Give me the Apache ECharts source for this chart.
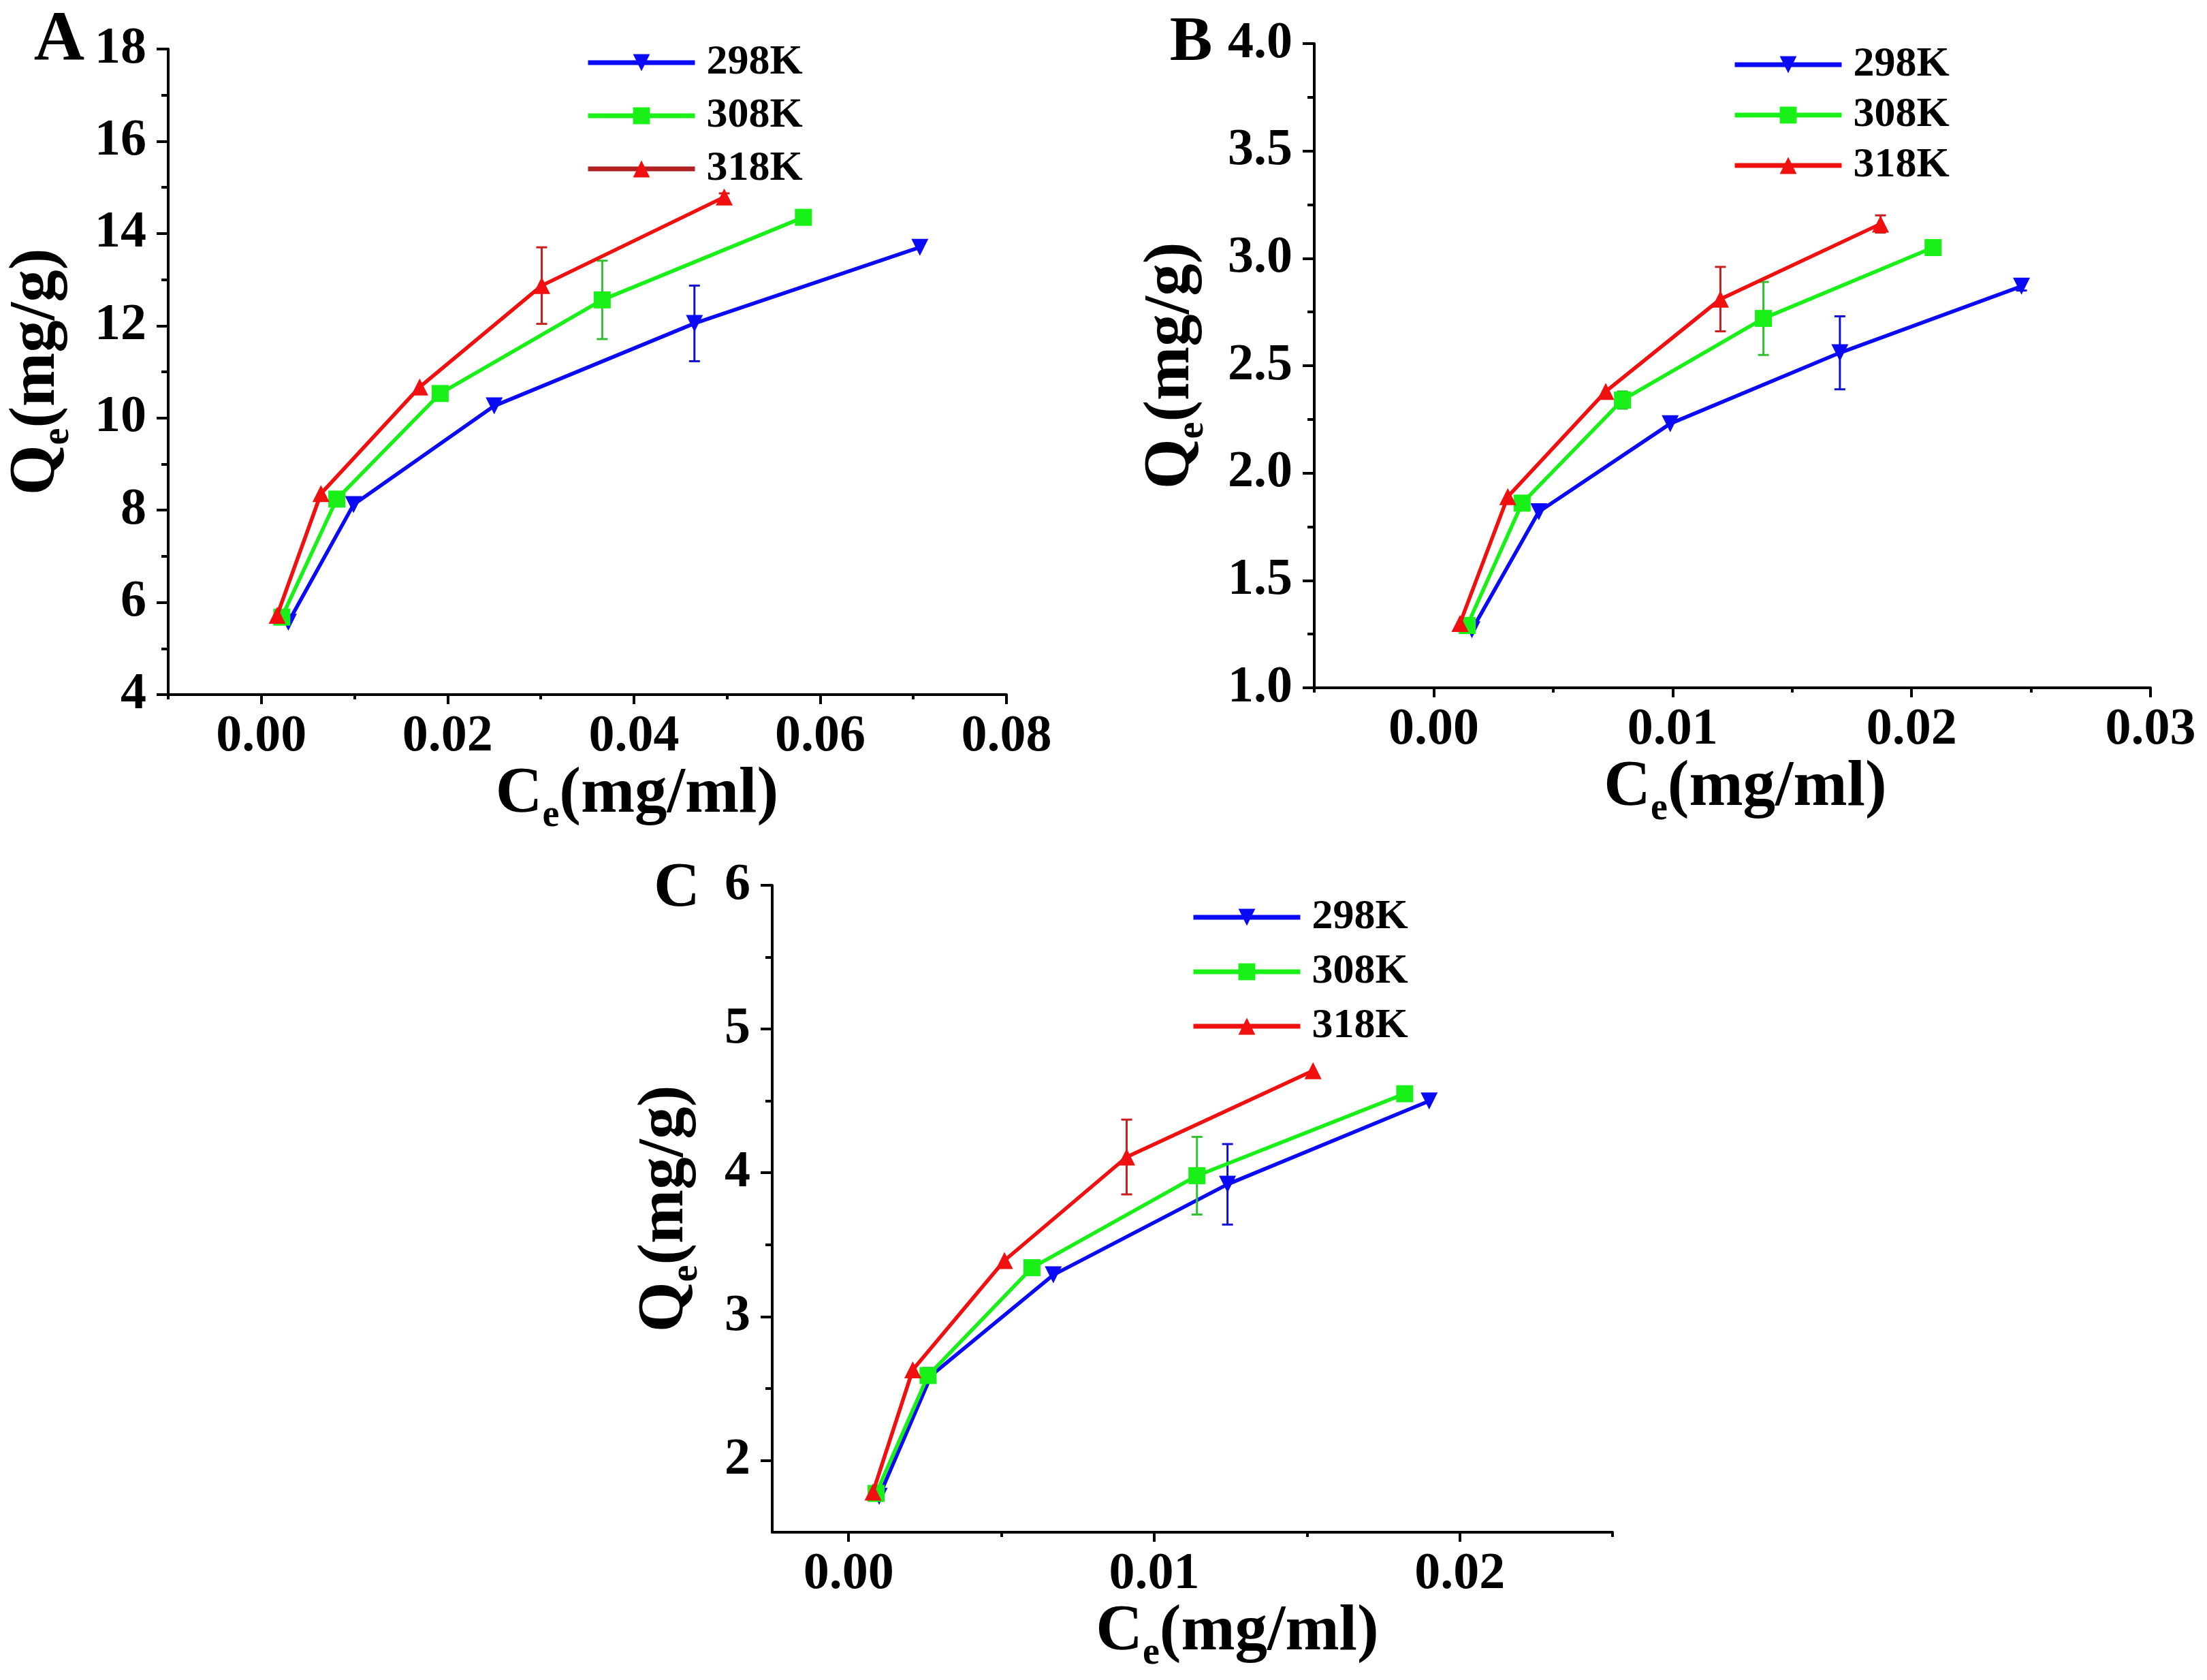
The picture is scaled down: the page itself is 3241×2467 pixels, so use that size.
<!DOCTYPE html>
<html>
<head>
<meta charset="utf-8">
<script src="https://cdn.jsdelivr.net/npm/echarts@6/dist/echarts.min.js"></script>
<style>
html, body { margin: 0; padding: 0; background: #fff; }
#chart { width: 3241px; height: 2467px; }
</style>
</head>
<body>
<div id="chart"></div>
<script>
// legend names
const temps = ['298K', '308K', '318K'];

// panel A
const ceA298 = [0.0029, 0.0099, 0.0250, 0.0465, 0.0707];
const qeA298 = [5.57, 8.12, 10.26, 12.05, 13.70];
const errA298 = [0, 0, 0, 0.82, 0];
const ceA308 = [0.0022, 0.0081, 0.0192, 0.0366, 0.0582];
const qeA308 = [5.68, 8.24, 10.53, 12.56, 14.35];
const errA308 = [0, 0, 0, 0.85, 0];
const ceA318 = [0.0017, 0.0064, 0.0170, 0.0301, 0.0497];
const qeA318 = [5.72, 8.36, 10.67, 12.87, 14.79];
const errA318 = [0, 0, 0, 0.83, 0.08];

// panel B
const ceB298 = [0.0016, 0.0044, 0.0099, 0.0170, 0.0246];
const qeB298 = [1.27, 1.82, 2.23, 2.56, 2.87];
const errB298 = [0, 0, 0, 0.17, 0.02];
const ceB308 = [0.0014, 0.0037, 0.0079, 0.0138, 0.0209];
const qeB308 = [1.29, 1.86, 2.34, 2.72, 3.05];
const errB308 = [0, 0, 0.04, 0.17, 0];
const ceB318 = [0.0011, 0.0031, 0.0072, 0.0120, 0.0187];
const qeB318 = [1.30, 1.89, 2.38, 2.81, 3.16];
const errB318 = [0, 0, 0, 0.15, 0.04];

// panel C
const ceC298 = [0.0010, 0.0027, 0.0067, 0.0124, 0.0190];
const qeC298 = [1.75, 2.59, 3.29, 3.92, 4.50];
const errC298 = [0, 0, 0, 0.28, 0];
const ceC308 = [0.0009, 0.0026, 0.0060, 0.0114, 0.0182];
const qeC308 = [1.77, 2.59, 3.34, 3.98, 4.55];
const errC308 = [0, 0, 0, 0.27, 0];
const ceC318 = [0.0008, 0.0021, 0.0051, 0.0091, 0.0152];
const qeC318 = [1.78, 2.63, 3.39, 4.11, 4.71];
const errC318 = [0, 0, 0, 0.26, 0];

// axes: ranges, labelled ticks, minor ticks
const xRangeA = [-0.01, 0.08];
const xTicksA = [0, 0.02, 0.04, 0.06, 0.08];
const xMinorA = [-0.01, 0.01, 0.03, 0.05, 0.07];
const yRangeA = [4, 18];
const yTicksA = [4, 6, 8, 10, 12, 14, 16, 18];
const yMinorA = [5, 7, 9, 11, 13, 15, 17];

const xRangeB = [-0.005, 0.03];
const xTicksB = [0, 0.01, 0.02, 0.03];
const xMinorB = [-0.005, 0.005, 0.015, 0.025];
const yRangeB = [1, 4];
const yTicksB = [1, 1.5, 2, 2.5, 3, 3.5, 4];
const yMinorB = [1.25, 1.75, 2.25, 2.75, 3.25, 3.75];

const xRangeC = [-0.0025, 0.025];
const xTicksC = [0, 0.01, 0.02];
const xMinorC = [0.005, 0.015, 0.025];
const yRangeC = [1.5, 6];
const yTicksC = [2, 3, 4, 5, 6];
const yMinorC = [2.5, 3.5, 4.5, 5.5];

const FONT = '"Liberation Serif", "Times New Roman", serif';
const colors = ['#0a0af5', '#18f018', '#f01010'];
const errColors = ['#1010d0', '#30c030', '#c82020'];
const symbols = ['triangle', 'rect', 'triangle'];
const rotates = [180, 0, 0];

const panels = [
    {
        letter: 'A', ce: [ceA298, ceA308, ceA318], qe: [qeA298, qeA308, qeA318], err: [errA298, errA308, errA318],
        xRange: xRangeA, xTicks: xTicksA, xMinor: xMinorA, yRange: yRangeA, yTicks: yTicksA, yMinor: yMinorA,
        xDigits: 2, yDigits: 0,
        grid: { left: 247, top: 72, width: 1231, height: 948 },
        yNameGap: 133, xNamePad: 146,
        legend: { left: 855, top: 56, gap: 16 }, legendRed: '#b02222',
        letterPos: [87, 61, 103]
    },
    {
        letter: 'B', ce: [ceB298, ceB308, ceB318], qe: [qeB298, qeB308, qeB318], err: [errB298, errB308, errB318],
        xRange: xRangeB, xTicks: xTicksB, xMinor: xMinorB, yRange: yRangeB, yTicks: yTicksB, yMinor: yMinorB,
        xDigits: 2, yDigits: 1,
        grid: { left: 1930, top: 64, width: 1228, height: 946 },
        yNameGap: 150, xNamePad: 38,
        legend: { left: 2539, top: 59, gap: 12 }, legendRed: '#f01010',
        letterPos: [1749, 64, 94]
    },
    {
        letter: 'C', ce: [ceC298, ceC308, ceC318], qe: [qeC298, qeC308, qeC318], err: [errC298, errC308, errC318],
        xRange: xRangeC, xTicks: xTicksC, xMinor: xMinorC, yRange: yRangeC, yTicks: yTicksC, yMinor: yMinorC,
        xDigits: 2, yDigits: 0,
        grid: { left: 1134, top: 1300, width: 1234, height: 950 },
        yNameGap: 97, xNamePad: 132,
        legend: { left: 1744, top: 1311, gap: 18 }, legendRed: '#f01010',
        letterPos: [994, 1306, 94]
    }
];

const rich = {
    m: { fontSize: 95, fontWeight: 'bold', fontFamily: FONT, color: '#000', verticalAlign: 'bottom', padding: [0, 0, 12, 0] },
    s: { fontSize: 56, fontWeight: 'bold', fontFamily: FONT, color: '#000', verticalAlign: 'bottom' }
};

function mainAxis(p, gi, dim) {
    const isX = dim === 'x';
    const range = isX ? p.xRange : p.yRange;
    const ticks = isX ? p.xTicks : p.yTicks;
    const digits = isX ? p.xDigits : p.yDigits;
    return {
        type: 'value',
        gridIndex: gi,
        position: isX ? 'bottom' : 'left',
        min: range[0],
        max: range[1],
        splitLine: { show: false },
        axisLine: { show: true, onZero: false, lineStyle: { color: '#000', width: 4 } },
        axisTick: { show: true, customValues: ticks, length: isX ? 14 : 17, lineStyle: { color: '#000', width: 4 } },
        axisLabel: {
            customValues: ticks,
            formatter: v => Number(v).toFixed(digits),
            margin: isX ? 24 : 32,
            fontSize: 76, fontWeight: 'bold', fontFamily: FONT, color: '#000'
        },
        name: isX ? '{m|C}{s|e}{m|(mg/ml)}' : '{m|Q}{s|e}{m|(mg/g)}',
        nameLocation: 'middle',
        nameGap: isX ? 100 : p.yNameGap,
        nameMoveOverlap: false,
        nameTextStyle: { rich: rich, padding: isX ? [0, 0, 0, p.xNamePad] : 0 }
    };
}

function minorAxis(p, gi, dim) {
    const isX = dim === 'x';
    const range = isX ? p.xRange : p.yRange;
    return {
        type: 'value',
        gridIndex: gi,
        position: isX ? 'bottom' : 'left',
        min: range[0],
        max: range[1],
        splitLine: { show: false },
        axisLine: { show: false, onZero: false },
        axisLabel: { show: false },
        axisTick: { show: true, customValues: isX ? p.xMinor : p.yMinor, length: isX ? 7 : 10, lineStyle: { color: '#000', width: 4 } }
    };
}

function errorBars(p, pi, i) {
    const data = [];
    p.ce[i].forEach((c, j) => {
        if (p.err[i][j] > 0) data.push([c, p.qe[i][j], p.err[i][j]]);
    });
    return {
        type: 'custom',
        xAxisIndex: pi * 2,
        yAxisIndex: pi * 2,
        z: 3 + i,
        silent: true,
        data: data,
        renderItem: function (params, api) {
            const x = api.value(0), y = api.value(1), e = api.value(2);
            const top = api.coord([x, y + e]);
            const bot = api.coord([x, y - e]);
            const cw = 8;
            const style = { stroke: errColors[i], lineWidth: 3 };
            return {
                type: 'group',
                children: [
                    { type: 'line', shape: { x1: top[0], y1: top[1], x2: bot[0], y2: bot[1] }, style: style },
                    { type: 'line', shape: { x1: top[0] - cw, y1: top[1], x2: top[0] + cw, y2: top[1] }, style: style },
                    { type: 'line', shape: { x1: bot[0] - cw, y1: bot[1], x2: bot[0] + cw, y2: bot[1] }, style: style }
                ]
            };
        }
    };
}

const grids = [], xAxes = [], yAxes = [], series = [], legends = [], graphics = [];

panels.forEach((p, pi) => {
    grids.push(Object.assign({ outerBoundsMode: 'none' }, p.grid));
    xAxes.push(mainAxis(p, pi, 'x'), minorAxis(p, pi, 'x'));
    yAxes.push(mainAxis(p, pi, 'y'), minorAxis(p, pi, 'y'));

    temps.forEach((t, i) => {
        series.push({
            type: 'line',
            name: t,
            xAxisIndex: pi * 2,
            yAxisIndex: pi * 2,
            data: p.ce[i].map((c, j) => [c, p.qe[i][j]]),
            symbol: symbols[i],
            symbolRotate: rotates[i],
            symbolSize: 25,
            z: 3 + i,
            lineStyle: { color: colors[i], width: 5.5 },
            itemStyle: { color: colors[i] }
        });
        series.push(errorBars(p, pi, i));
    });

    legends.push({
        orient: 'vertical',
        left: p.legend.left,
        top: p.legend.top,
        itemWidth: 157,
        itemHeight: 31,
        itemGap: p.legend.gap,
        selectedMode: false,
        lineStyle: { width: 7 },
        textStyle: { fontSize: 62, lineHeight: 62, fontWeight: 'bold', fontFamily: FONT, color: '#000', padding: [0, 0, 0, 12] },
        data: [
            { name: temps[0] },
            { name: temps[1] },
            { name: temps[2], lineStyle: { color: p.legendRed } }
        ]
    });

    graphics.push({
        type: 'text',
        x: p.letterPos[0],
        y: p.letterPos[1],
        style: {
            text: p.letter,
            fontSize: p.letterPos[2],
            fontWeight: 'bold',
            fontFamily: FONT,
            fill: '#000',
            align: 'center',
            verticalAlign: 'middle'
        }
    });
});

const chart = echarts.init(document.getElementById('chart'));
chart.setOption({
    backgroundColor: '#fff',
    animation: false,
    textStyle: { fontFamily: FONT },
    grid: grids,
    xAxis: xAxes,
    yAxis: yAxes,
    legend: legends,
    series: series,
    graphic: graphics
});
</script>
</body>
</html>
